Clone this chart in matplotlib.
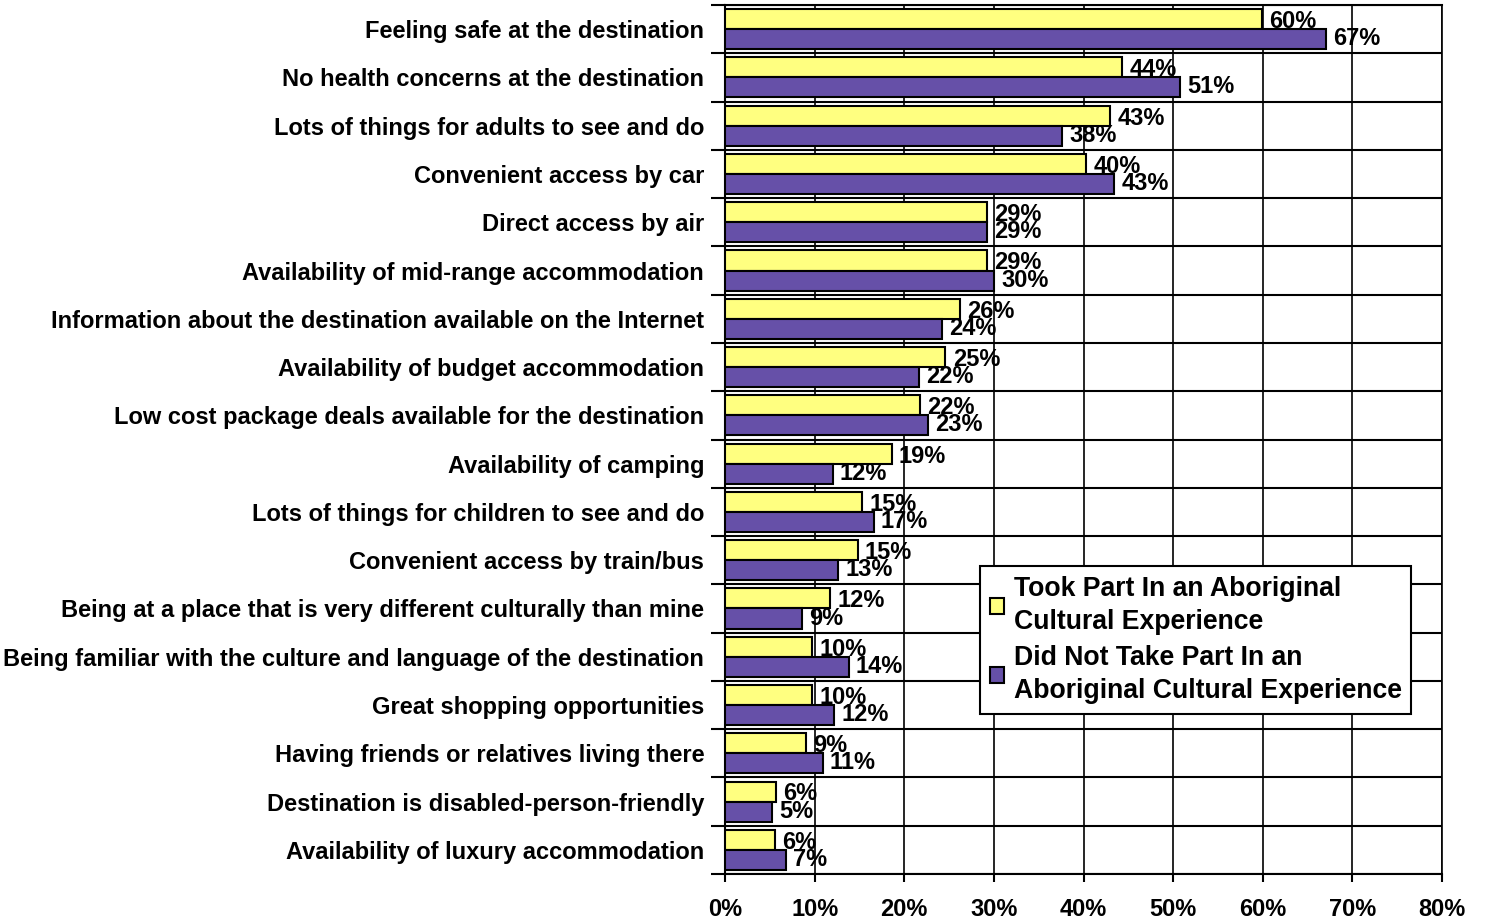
import matplotlib
matplotlib.use("Agg")
import matplotlib.pyplot as plt
import numpy as np

plt.rcParams['font.family'] = ['Liberation Sans', 'DejaVu Sans']
plt.rcParams['font.weight'] = 'bold'

# data (percent)
categories = [
    "Feeling safe at the destination",
    "No health concerns at the destination",
    "Lots of things for adults to see and do",
    "Convenient access by car",
    "Direct access by air",
    "Availability of mid-range accommodation",
    "Information about the destination available on the Internet",
    "Availability of budget accommodation",
    "Low cost package deals available for the destination",
    "Availability of camping",
    "Lots of things for children to see and do",
    "Convenient access by train/bus",
    "Being at a place that is very different culturally than mine",
    "Being familiar with the culture and language of the destination",
    "Great shopping opportunities",
    "Having friends or relatives living there",
    "Destination is disabled-person-friendly",
    "Availability of luxury accommodation",
]
took_part = [59.9, 44.3, 43.0, 40.3, 29.2, 29.2, 26.2, 24.6, 21.8, 18.6,
             15.3, 14.8, 11.7, 9.7, 9.7, 9.0, 5.7, 5.6]
not_took = [67.0, 50.8, 37.6, 43.4, 29.2, 30.0, 24.2, 21.6, 22.6, 12.0,
            16.6, 12.6, 8.6, 13.8, 12.2, 10.9, 5.2, 6.8]
series_names = ["Took Part In an Aboriginal\nCultural Experience",
                "Did Not Take Part In an\nAboriginal Cultural Experience"]
xticks = [0, 10, 20, 30, 40, 50, 60, 70, 80]

yellow = "#FFFF80"
purple = "#6650A8"

fig = plt.figure(figsize=(14.86, 9.24), dpi=100)
ax = fig.add_axes([0.4879, 0.0541, 0.9704 - 0.4879, 0.9946 - 0.0541])

y = np.arange(len(categories))
h = 0.415
ax.barh(y - h / 2, took_part, height=h, color=yellow, edgecolor="black",
        linewidth=1.5, zorder=3, label=series_names[0])
ax.barh(y + h / 2, not_took, height=h, color=purple, edgecolor="black",
        linewidth=1.5, zorder=3, label=series_names[1])

for i in range(len(categories)):
    ax.text(took_part[i] + 0.8, y[i] - h / 2 + 0.05, f"{round(took_part[i])}%",
            va="center", ha="left", fontsize=17, fontweight="bold", zorder=4)
    ax.text(not_took[i] + 0.8, y[i] + h / 2 - 0.01, f"{round(not_took[i])}%",
            va="center", ha="left", fontsize=17, fontweight="bold", zorder=4)

ax.set_xlim(0, 80)
ax.set_ylim(len(categories) - 0.5, -0.5)

ax.set_xticks(xticks)
ax.set_xticklabels([f"{v}%" for v in xticks], fontsize=17, fontweight="bold")
ax.set_yticks(y)
ax.set_yticklabels(categories, fontsize=17, fontweight="bold")
ax.set_yticks(np.arange(-0.5, len(categories), 1.0), minor=True)

ax.tick_params(axis="y", which="major", length=0, pad=15)
ax.tick_params(axis="y", which="minor", length=10, width=1.5, direction="out")
ax.tick_params(axis="x", which="major", length=6, width=1.5, pad=11)

ax.grid(axis="x", which="major", color="black", linewidth=1.2, zorder=0)
ax.grid(axis="y", which="minor", color="black", linewidth=1.5, zorder=0)
ax.set_axisbelow(True)

for s in ["left", "bottom", "top"]:
    ax.spines[s].set_linewidth(1.5)
ax.spines["right"].set_linewidth(1.2)

leg = ax.legend(loc="upper left", bbox_to_anchor=(0.356, 0.354),
                borderaxespad=0, prop={"weight": "bold", "size": 19.2},
                frameon=True, fancybox=False, framealpha=1,
                handlelength=0.55, handleheight=0.55, handletextpad=0.35,
                borderpad=0.35, labelspacing=0.4)
for t in leg.get_texts():
    t.set_linespacing(1.35)
leg.get_frame().set_edgecolor("black")
leg.get_frame().set_linewidth(1.5)
leg.set_zorder(5)

fig.savefig("out.png", dpi=100)
